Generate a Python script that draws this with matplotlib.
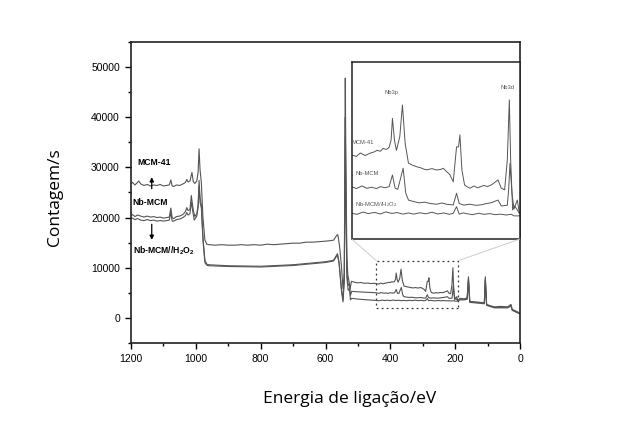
import numpy as np
import matplotlib.pyplot as plt
from matplotlib.patches import Rectangle, ConnectionPatch
from matplotlib.ticker import MultipleLocator

# --------------------
# Données XPS
# --------------------
be_mcm41 = [1200, 1195, 1188, 1180, 1176, 1170, 1160, 1150, 1140, 1130, 1120, 1110, 1100,
            1090, 1082, 1077, 1073, 1068, 1060, 1050, 1040, 1032, 1028, 1024, 1018, 1012,
            1008, 1003, 997, 993, 990, 987, 983, 978, 972, 966, 960, 940, 920, 900, 880,
            860, 840, 820, 800, 780, 760, 740, 720, 700, 680, 660, 640, 620, 600, 585,
            575, 566, 562, 557, 551, 546, 542, 539, 537, 534, 531, 528, 524, 520, 510,
            500, 490, 480, 470, 460, 450, 443, 436, 430, 423, 416, 410, 405, 400, 396,
            391, 387, 384, 382, 379, 376, 371, 367, 363, 358, 352, 346, 340, 335, 330,
            323, 316, 310, 306, 301, 296, 291, 286, 283, 281, 278, 274, 270, 266, 260,
            255, 250, 245, 240, 234, 229, 224, 219, 214, 210, 207, 205, 202, 199, 196,
            192, 185, 172, 163, 159, 155, 140, 121, 110, 107, 103, 90, 79, 60, 38, 28,
            24, 10, 0]
cps_mcm41 = [26800, 27000, 26500, 27000, 27300, 26700, 26400, 26600, 26300, 26500, 26400,
             26600, 26300, 26400, 26500, 27500, 26300, 26200, 26500, 26400, 26700, 27000,
             27600, 27100, 27300, 29000, 27200, 26800, 27300, 29000, 33700, 29500, 27000,
             20000, 15500, 14700, 14600, 14500, 14600, 14500, 14500, 14600, 14500, 14600,
             14500, 14700, 14600, 14700, 14800, 14900, 14900, 15100, 15100, 15200, 15300,
             15400, 15500, 16400, 16600, 14500, 10500, 5800, 9000, 47800, 30000, 12000,
             8500, 7500, 5800, 7300, 7100, 7000, 7050, 6900, 6950, 6850, 6900, 6835, 6750,
             6950, 6800, 6930, 7000, 7100, 7050, 7210, 7150, 7270, 7690, 8940, 7690, 7100,
             7890, 9710, 7510, 6360, 6250, 6160, 6100, 6020, 5980, 6050, 5970, 6000, 6070,
             5880, 5700, 5290, 7300, 7300, 7990, 5970, 5110, 5000, 4920, 5050, 4950, 5010,
             5080, 5020, 5110, 5250, 5400, 4920, 4830, 6550, 10000, 6550, 3670, 3900, 3730,
             3480, 3900, 3800, 4000, 8200, 3300, 3200, 3100, 3000, 8200, 2700, 2400, 2200,
             2300, 2200, 2700, 1700, 1300, 900]

be_nbmcm = [1200, 1195, 1188, 1180, 1170, 1160, 1150, 1140, 1130, 1120, 1110, 1100, 1090,
            1082, 1077, 1073, 1068, 1060, 1050, 1040, 1032, 1028, 1024, 1018, 1014, 1008,
            1003, 997, 993, 990, 987, 983, 978, 972, 966, 960, 900, 800, 700, 650, 600,
            575, 567, 563, 558, 551, 546, 542, 539, 537, 534, 530, 526, 523, 519, 500,
            470, 443, 436, 428, 420, 413, 406, 400, 393, 387, 382, 378, 374, 366, 362,
            358, 350, 342, 334, 325, 316, 308, 300, 291, 286, 282, 275, 266, 258, 250,
            242, 233, 224, 219, 210, 208, 206, 203, 200, 195, 192, 185, 172, 163, 159,
            155, 121, 110, 107, 103, 79, 38, 28, 24, 0]
cps_nbmcm = [20400, 20600, 20200, 20500, 20300, 20100, 20300, 20100, 20200, 20000, 20100,
             19900, 20000, 20100, 21900, 19900, 19800, 20200, 20300, 20600, 21200, 22000,
             21400, 21600, 24400, 21500, 20200, 20800, 22500, 27400, 24000, 22500, 16000,
             11500, 10700, 10600, 10400, 10300, 10600, 10900, 11200, 11500, 12400, 12800,
             11000, 6000, 3600, 8000, 40000, 25000, 9000, 6500, 6800, 4500, 5300, 5200,
             5100, 5010, 4900, 5050, 4920, 4980, 4900, 5010, 4950, 5010, 5680, 4920, 4860,
             6070, 4630, 4240, 4150, 4080, 4120, 4040, 4000, 4070, 3990, 3960, 4630, 4040,
             3950, 4000, 3940, 3960, 4030, 4100, 4240, 3900, 3940, 4830, 6360, 4630, 3730,
             4240, 3480, 3750, 3700, 3850, 7800, 3200, 3000, 2900, 7800, 2600, 2100, 2100,
             2500, 1600, 850]

be_h2o2 = [1200, 1195, 1188, 1180, 1170, 1160, 1150, 1140, 1130, 1120, 1110, 1100, 1090,
           1082, 1077, 1073, 1068, 1060, 1050, 1040, 1032, 1028, 1024, 1018, 1014, 1005,
           997, 993, 990, 987, 983, 978, 972, 966, 960, 900, 800, 700, 650, 600, 575,
           567, 563, 558, 551, 546, 542, 539, 537, 534, 530, 526, 523, 519, 500, 470,
           443, 435, 426, 418, 409, 400, 392, 383, 375, 366, 358, 350, 341, 332, 323,
           314, 305, 297, 291, 286, 282, 276, 270, 262, 253, 245, 236, 228, 220, 212,
           204, 200, 192, 185, 172, 163, 159, 155, 121, 110, 107, 103, 79, 38, 28, 24, 0]
cps_h2o2 = [19800, 19900, 19600, 19800, 19500, 19400, 19600, 19400, 19500, 19300, 19400,
            19300, 19400, 19500, 21000, 19300, 19300, 19600, 19700, 20000, 20400, 21000,
            20500, 20800, 23100, 19500, 20300, 22000, 26300, 23000, 22000, 15500, 11000,
            10500, 10400, 10250, 10150, 10450, 10750, 11050, 11350, 12200, 12500, 10800,
            5500, 3200, 7500, 36000, 22000, 8000, 5500, 5800, 3600, 3900, 3750, 3600,
            3480, 3420, 3550, 3460, 3530, 3440, 3560, 3470, 3520, 3430, 3500, 3430, 3510,
            3450, 3540, 3440, 3500, 3420, 3480, 3860, 3430, 3500, 3450, 3400, 3480, 3420,
            3460, 3400, 3430, 3380, 3420, 3330, 3330, 3600, 3600, 3700, 7500, 3100, 2900,
            2800, 7500, 2500, 2000, 2000, 2400, 1500, 800]

labels = ["MCM-41", "Nb-MCM", r"Nb-MCM//H$_\mathbf{2}$O$_\mathbf{2}$"]
inset_labels = ["MCM-41", "Nb-MCM", r"Nb-MCM//H$_2$O$_2$"]
zoom_be = (443, 191)
zoom_cps = (1900, 11400)
inset_ylim = (2000, 12200)

line_color = "#555555"

plt.rcParams["mathtext.fontset"] = "custom"
plt.rcParams["mathtext.rm"] = "Liberation Sans"
plt.rcParams["mathtext.bf"] = "Liberation Sans:bold"

fig = plt.figure(figsize=(6.3, 4.46), dpi=100)
ax = fig.add_axes([131 / 630, 103 / 446, 389 / 630, 301 / 446])

series = [(be_mcm41, cps_mcm41), (be_nbmcm, cps_nbmcm), (be_h2o2, cps_h2o2)]
for be, cps in series:
    ax.plot(be, cps, color=line_color, lw=0.8)

ax.set_xlim(1200, 0)
ax.set_ylim(-5000, 55000)
ax.xaxis.set_major_locator(MultipleLocator(200))
ax.xaxis.set_minor_locator(MultipleLocator(100))
ax.yaxis.set_major_locator(MultipleLocator(10000))
ax.yaxis.set_minor_locator(MultipleLocator(5000))
ax.tick_params(which="major", direction="out", length=4, width=1, labelsize=7.5, pad=4)
ax.tick_params(which="minor", direction="out", length=2.5, width=1)
for lab in ax.get_xticklabels() + ax.get_yticklabels():
    lab.set_fontfamily("Liberation Sans")
for sp in ax.spines.values():
    sp.set_linewidth(1.2)
    sp.set_color("#222222")

ax.set_ylabel("Contagem/s", fontsize=12.5, family="Open Sans")
ax.yaxis.set_label_coords(-0.175, 0.485)
ax.set_xlabel("Energia de ligação/eV", fontsize=12.5, family="Open Sans")
ax.xaxis.set_label_coords(0.563, -0.16)

# Étiquettes et flèches
lab_kw = dict(ha="center", va="center", fontsize=6.2, fontweight="bold",
              family="Liberation Sans")
ax.text(1129, 31000, labels[0], **lab_kw)
ax.text(1141, 23000, labels[1], **lab_kw)
ax.text(1098, 13300, labels[2], **lab_kw)
ax.annotate("", xy=(1136, 28600), xytext=(1136, 25200),
            arrowprops=dict(arrowstyle="-|>", color="black", lw=0.9, mutation_scale=6))
ax.annotate("", xy=(1136, 15000), xytext=(1136, 19200),
            arrowprops=dict(arrowstyle="-|>", color="black", lw=0.9, mutation_scale=6))

# Rectangle pointillé de la zone agrandie
ax.add_patch(Rectangle((zoom_be[1], zoom_cps[0]), zoom_be[0] - zoom_be[1],
                       zoom_cps[1] - zoom_cps[0], fill=False, ls=(0, (1.5, 2.5)),
                       lw=0.9, ec="#333333"))

# ================================
# Encart
# ================================
axins = fig.add_axes([351.7 / 630, 207 / 446, 168.3 / 630, 177.3 / 446])
for be, cps in series:
    axins.plot(be, cps, color=line_color, lw=0.7)
axins.set_xlim(*zoom_be)
axins.set_ylim(*inset_ylim)
axins.set_xticks([])
axins.set_yticks([])
for sp in axins.spines.values():
    sp.set_linewidth(1.1)
    sp.set_color("#222222")

txt_kw = dict(fontsize=4.2, color="#555555", family="Liberation Sans")
axins.text(384, 10400, "Nb3p", ha="center", va="center", **txt_kw)
axins.text(210, 10690, "Nb3d", ha="center", va="center", **txt_kw)
axins.text(0.0, 0.547, inset_labels[0], transform=axins.transAxes, ha="left", va="center", **txt_kw)
axins.text(0.02, 0.372, inset_labels[1], transform=axins.transAxes, ha="left", va="center", **txt_kw)
axins.text(0.02, 0.197, inset_labels[2], transform=axins.transAxes, ha="left",
           va="center", **txt_kw)

for xa, xb in [(zoom_be[0], 0.0), (zoom_be[1], 1.0)]:
    con = ConnectionPatch(xyA=(xa, zoom_cps[1]), coordsA="data", axesA=ax,
                          xyB=(xb, 0.0), coordsB="axes fraction", axesB=axins,
                          color="#cccccc", lw=0.7)
    fig.add_artist(con)

fig.savefig("out.png", dpi=100)
